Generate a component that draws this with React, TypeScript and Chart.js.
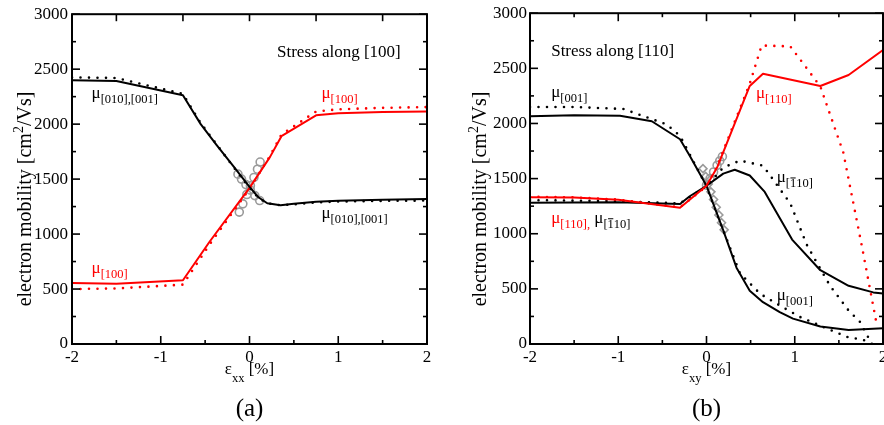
import React, { useEffect, useRef } from 'react';
import { Chart, registerables } from 'chart.js';
Chart.register(...registerables);

const RED = '#ff0000';
const BLACK = '#000000';
const GRAY = '#9a9a9a';
const FONT = "'Liberation Serif', 'Times New Roman', serif";

// ---------- Panel (a): stress along [100] ----------
const A_MU010_SOLID_X = [-2, -1.5, -0.75, -0.55, -0.37, -0.18, 0, 0.1, 0.2, 0.35, 0.5, 0.75, 1, 1.5, 2];
const A_MU010_SOLID_Y = [2400, 2392, 2262, 2000, 1810, 1615, 1430, 1335, 1280, 1262, 1275, 1295, 1303, 1312, 1318];
const A_MU010_DOT_Y = [2425, 2420, 2275, 2010, 1815, 1610, 1420, 1330, 1280, 1262, 1270, 1288, 1296, 1302, 1305];
const A_MU100_X = [-2, -1.5, -0.75, -0.45, 0, 0.23, 0.36, 0.75, 1, 1.5, 2];
const A_MU100_SOLID_Y = [555, 548, 580, 930, 1420, 1700, 1890, 2080, 2100, 2110, 2115];
const A_MU100_DOT_Y = [500, 505, 540, 905, 1410, 1710, 1905, 2115, 2135, 2148, 2155];
const A_CIRC_UP_X = [-0.115, -0.075, -0.03, 0.01, 0.05, 0.09, 0.12];
const A_CIRC_UP_Y = [1200, 1275, 1360, 1440, 1515, 1590, 1655];
const A_CIRC_DN_X = [-0.13, -0.09, -0.04, 0.01, 0.06, 0.115];
const A_CIRC_DN_Y = [1545, 1500, 1450, 1400, 1350, 1305];
const A_TOP_TICKS = [-1.5, -0.75, 0, 0.75, 1.5];

// ---------- Panel (b): stress along [110] ----------
const B_MU001_SOLID_X = [-2, -1.5, -0.98, -0.62, -0.3, -0.19, 0, 0.19, 0.34, 0.49, 0.64, 0.83, 0.98, 1.29, 1.61, 2];
const B_MU001_SOLID_Y = [2065, 2075, 2070, 2020, 1857, 1708, 1435, 1030, 692, 484, 379, 289, 230, 158, 128, 142];
const B_MU001_DOT_X = [-2, -1.5, -0.94, -0.45, -0.3, -0.19, 0, 0.19, 0.38, 0.61, 0.83, 1.06, 1.32, 1.59, 1.78, 1.88];
const B_MU001_DOT_Y = [2150, 2150, 2131, 1991, 1887, 1720, 1430, 1030, 640, 454, 349, 245, 155, 65, 36, 0];
const B_MU1B10_SOLID_X = [-2, -1.5, -1, -0.3, -0.19, 0, 0.19, 0.32, 0.49, 0.66, 0.97, 1.29, 1.61, 1.89, 2];
const B_MU1B10_SOLID_Y = [1280, 1283, 1285, 1269, 1340, 1435, 1545, 1580, 1528, 1379, 947, 669, 528, 468, 459];
const B_MU1B10_DOT_X = [-2, -1.5, -1, -0.3, 0, 0.19, 0.38, 0.64, 0.95, 1.135, 1.25, 1.4, 1.61, 1.74, 1.83, 1.87];
const B_MU1B10_DOT_Y = [1305, 1300, 1295, 1275, 1430, 1600, 1663, 1618, 1274, 902, 737, 528, 304, 200, 65, 0];
const B_MU110_SOLID_X = [-2, -1.5, -1, -0.3, 0, 0.12, 0.49, 0.64, 1.29, 1.61, 2];
const B_MU110_SOLID_Y = [1330, 1328, 1308, 1235, 1435, 1600, 2340, 2450, 2340, 2440, 2665];
const B_MU110_DOT_X = [-2, -1.5, -1, -0.3, 0, 0.12, 0.49, 0.625, 0.95, 1.29, 1.55, 1.76, 1.92];
const B_MU110_DOT_Y = [1335, 1330, 1310, 1240, 1430, 1610, 2360, 2707, 2699, 2335, 1737, 890, 215];
const B_DIAM_X = [-0.04, -0.01, 0.02, 0.05, 0.08, 0.11, 0.14, 0.17, 0.2];
const B_DIAM_Y = [1590, 1520, 1450, 1380, 1310, 1240, 1170, 1100, 1035];
const B_CIRC_X = [0.0, 0.04, 0.08, 0.12, 0.15, 0.18];
const B_CIRC_Y = [1440, 1500, 1560, 1620, 1660, 1700];

// ---------- Text ----------
type Seg = [string, 'n' | 's' | 'sb', string];
type Label = { x: number; y: number; segs: Seg[] };

const A_LABELS: Label[] = [
  { x: 0.31, y: 2615, segs: [['Stress along [100]', 'n', BLACK]] },
  { x: -1.78, y: 2239, segs: [['μ', 'n', BLACK], ['[010],[001]', 's', BLACK]] },
  { x: 0.81, y: 2239, segs: [['μ', 'n', RED], ['[100]', 's', RED]] },
  { x: -1.78, y: 648, segs: [['μ', 'n', RED], ['[100]', 's', RED]] },
  { x: 0.81, y: 1146, segs: [['μ', 'n', BLACK], ['[010],[001]', 's', BLACK]] },
];
const B_LABELS: Label[] = [
  { x: -1.76, y: 2615, segs: [['Stress along [110]', 'n', BLACK]] },
  { x: -1.76, y: 2236, segs: [['μ', 'n', BLACK], ['[001]', 's', BLACK]] },
  { x: 0.56, y: 2232, segs: [['μ', 'n', RED], ['[110]', 's', RED]] },
  { x: 0.795, y: 1465, segs: [['μ', 'n', BLACK], ['[', 's', BLACK], ['1', 'sb', BLACK], ['10]', 's', BLACK]] },
  {
    x: -1.76, y: 1095, segs: [
      ['μ', 'n', RED], ['[110],', 's', RED], [' μ', 'n', BLACK],
      ['[', 's', BLACK], ['1', 'sb', BLACK], ['10]', 's', BLACK],
    ],
  },
  { x: 0.795, y: 395, segs: [['μ', 'n', BLACK], ['[001]', 's', BLACK]] },
];

const MAIN = 17;
const SUB = 12.5;
const YTITLE = 20;
const YTITLE_SUP = 14;

function drawSegs(ctx: CanvasRenderingContext2D, x: number, y: number, segs: Seg[]) {
  let cx = x;
  for (const [t, k, c] of segs) {
    ctx.fillStyle = c;
    ctx.strokeStyle = c;
    if (k === 'n') {
      ctx.font = `${MAIN}px ${FONT}`;
      ctx.fillText(t, cx, y);
      cx += ctx.measureText(t).width;
    } else {
      ctx.font = `${SUB}px ${FONT}`;
      const yy = y + 5;
      const w = ctx.measureText(t).width;
      ctx.fillText(t, cx, yy);
      if (k === 'sb') {
        ctx.lineWidth = 1;
        ctx.beginPath();
        ctx.moveTo(cx + 0.5, yy - 9.5);
        ctx.lineTo(cx + w - 0.5, yy - 9.5);
        ctx.stroke();
      }
      cx += w;
    }
  }
}

type PanelDef = {
  datasets: any[];
  padRight: number;
  yWidth: number;
  yPad: number;
  labels: Label[];
  xSub: string;
  caption: string;
  yTitleX: number;
  topTicks: number[] | null;
};

const isInt = (v: number) => Math.abs(v - Math.round(v)) < 1e-6;
const pts = (xs: number[], ys: number[]) => xs.map((x, i) => ({ x, y: ys[i] }));

const lineDs = (xs: number[], ys: number[], color: string, dotted: boolean) => ({
  data: pts(xs, ys),
  borderColor: color,
  backgroundColor: color,
  borderWidth: dotted ? 2.6 : 2,
  borderDash: dotted ? [0, 8.5] : [],
  borderCapStyle: dotted ? 'round' : 'butt',
  borderJoinStyle: 'round',
  pointRadius: 0,
  fill: false,
  tension: 0,
  clip: 0,
});

const markDs = (xs: number[], ys: number[], style: string) => ({
  data: pts(xs, ys),
  showLine: false,
  pointStyle: style,
  pointRadius: 4,
  pointBorderColor: GRAY,
  pointBackgroundColor: 'rgba(0,0,0,0)',
  pointBorderWidth: 1.6,
  clip: 0,
});

const framePlugin = (p: PanelDef) => ({
  id: 'frame',
  afterDraw(chart: any) {
    const { ctx, chartArea: a, scales } = chart;
    const xs = scales.x;
    const ys = scales.y;
    ctx.save();
    ctx.strokeStyle = BLACK;
    ctx.lineWidth = 1.6;
    const seg = (x1: number, y1: number, x2: number, y2: number) => {
      ctx.beginPath();
      ctx.moveTo(x1, y1);
      ctx.lineTo(x2, y2);
      ctx.stroke();
    };
    xs.ticks.forEach((t: any) => {
      const px = xs.getPixelForValue(t.value);
      const len = isInt(t.value) ? 8 : 4;
      seg(px, a.bottom, px, a.bottom - len);
      if (!p.topTicks) seg(px, a.top, px, a.top + len);
    });
    if (p.topTicks) {
      p.topTicks.forEach((v) => {
        const px = xs.getPixelForValue(v);
        seg(px, a.top, px, a.top + 7);
      });
    }
    ys.ticks.forEach((t: any) => {
      const py = ys.getPixelForValue(t.value);
      const len = t.value % 500 === 0 ? 8 : 4;
      seg(a.left, py, a.left + len, py);
      seg(a.right, py, a.right - len, py);
    });
    ctx.lineWidth = 2;
    ctx.strokeRect(a.left, a.top, a.right - a.left, a.bottom - a.top);

    // annotation labels
    ctx.textAlign = 'left';
    ctx.textBaseline = 'alphabetic';
    p.labels.forEach((l) => {
      drawSegs(ctx, xs.getPixelForValue(l.x), ys.getPixelForValue(l.y), l.segs);
    });

    // x-axis title
    const cx = (a.left + a.right) / 2;
    ctx.font = `${MAIN}px ${FONT}`;
    const wE = ctx.measureText('ε').width;
    const wB = ctx.measureText(' [%]').width;
    ctx.font = `${SUB}px ${FONT}`;
    const wS = ctx.measureText(p.xSub).width;
    let sx = cx - (wE + wS + wB) / 2;
    ctx.fillStyle = BLACK;
    ctx.font = `${MAIN}px ${FONT}`;
    ctx.fillText('ε', sx, 374);
    sx += wE;
    ctx.font = `${SUB}px ${FONT}`;
    ctx.fillText(p.xSub, sx, 382);
    sx += wS;
    ctx.font = `${MAIN}px ${FONT}`;
    ctx.fillText(' [%]', sx, 374);

    // caption
    ctx.font = `25px ${FONT}`;
    ctx.textAlign = 'center';
    ctx.fillText(p.caption, cx, 416);

    // y-axis title
    ctx.textAlign = 'left';
    const p1 = 'electron mobility [cm';
    const p2 = '/Vs]';
    ctx.font = `${YTITLE}px ${FONT}`;
    const w1 = ctx.measureText(p1).width;
    const w2 = ctx.measureText(p2).width;
    ctx.font = `${YTITLE_SUP}px ${FONT}`;
    const w3 = ctx.measureText('2').width;
    ctx.save();
    ctx.translate(p.yTitleX, 199);
    ctx.rotate(-Math.PI / 2);
    let tx = -(w1 + w2 + w3) / 2;
    ctx.font = `${YTITLE}px ${FONT}`;
    ctx.fillText(p1, tx, 0);
    tx += w1;
    ctx.font = `${YTITLE_SUP}px ${FONT}`;
    ctx.fillText('2', tx, -8);
    tx += w3;
    ctx.font = `${YTITLE}px ${FONT}`;
    ctx.fillText(p2, tx, 0);
    ctx.restore();

    ctx.restore();
  },
});

const buildConfig = (p: PanelDef): any => ({
  type: 'line',
  data: { datasets: p.datasets },
  options: {
    animation: false,
    responsive: false,
    events: [],
    layout: { padding: { left: 0, right: p.padRight, top: 9, bottom: 0 } },
    plugins: { legend: { display: false }, tooltip: { enabled: false } },
    scales: {
      x: {
        type: 'linear',
        min: -2,
        max: 2,
        grid: { display: false, drawTicks: false },
        border: { display: false },
        ticks: {
          stepSize: 0.5,
          autoSkip: false,
          maxRotation: 0,
          padding: 3,
          color: BLACK,
          font: { family: FONT, size: MAIN },
          callback: (v: number) => (isInt(v) ? String(Math.round(v)) : ''),
        },
        afterFit: (s: any) => {
          s.height = 81;
        },
      },
      y: {
        type: 'linear',
        min: 0,
        max: 3000,
        grid: { display: false, drawTicks: false },
        border: { display: false },
        ticks: {
          stepSize: 250,
          autoSkip: false,
          padding: p.yPad,
          color: BLACK,
          font: { family: FONT, size: MAIN },
          callback: (v: number) => (v % 500 === 0 ? String(v) : ''),
        },
        afterFit: (s: any) => {
          s.width = p.yWidth;
        },
      },
    },
  },
  plugins: [framePlugin(p)],
});

const PANEL_A: PanelDef = {
  datasets: [
    lineDs(A_MU010_SOLID_X, A_MU010_SOLID_Y, BLACK, false),
    lineDs(A_MU100_X, A_MU100_SOLID_Y, RED, false),
    lineDs(A_MU010_SOLID_X, A_MU010_DOT_Y, BLACK, true),
    lineDs(A_MU100_X, A_MU100_DOT_Y, RED, true),
    markDs(A_CIRC_UP_X, A_CIRC_UP_Y, 'circle'),
    markDs(A_CIRC_DN_X, A_CIRC_DN_Y, 'circle'),
  ],
  padRight: 13,
  yWidth: 72,
  yPad: 4,
  labels: A_LABELS,
  xSub: 'xx',
  caption: '(a)',
  yTitleX: 31,
  topTicks: A_TOP_TICKS,
};

const PANEL_B: PanelDef = {
  datasets: [
    lineDs(B_MU110_SOLID_X, B_MU110_SOLID_Y, RED, false),
    lineDs(B_MU001_SOLID_X, B_MU001_SOLID_Y, BLACK, false),
    lineDs(B_MU1B10_SOLID_X, B_MU1B10_SOLID_Y, BLACK, false),
    lineDs(B_MU110_DOT_X, B_MU110_DOT_Y, RED, true),
    lineDs(B_MU001_DOT_X, B_MU001_DOT_Y, BLACK, true),
    lineDs(B_MU1B10_DOT_X, B_MU1B10_DOT_Y, BLACK, true),
    markDs(B_CIRC_X, B_CIRC_Y, 'circle'),
    markDs(B_DIAM_X, B_DIAM_Y, 'rectRot'),
  ],
  padRight: 37,
  yWidth: 90,
  yPad: 3,
  labels: B_LABELS,
  xSub: 'xy',
  caption: '(b)',
  yTitleX: 46,
  topTicks: null,
};

function Panel({ def, left, width }: { def: PanelDef; left: number; width: number }) {
  const ref = useRef<HTMLCanvasElement>(null);
  useEffect(() => {
    const chart = new Chart(ref.current as HTMLCanvasElement, buildConfig(def));
    return () => chart.destroy();
  }, [def]);
  return (
    <canvas
      ref={ref}
      width={width}
      height={425}
      style={{ position: 'absolute', left, top: 0, width, height: 425 }}
    />
  );
}

export default function App() {
  return (
    <div
      style={{
        position: 'absolute',
        left: 0,
        top: 0,
        width: 884,
        height: 425,
        overflow: 'hidden',
        background: '#ffffff',
      }}
    >
      <Panel def={PANEL_A} left={0} width={440} />
      <Panel def={PANEL_B} left={440} width={480} />
    </div>
  );
}
